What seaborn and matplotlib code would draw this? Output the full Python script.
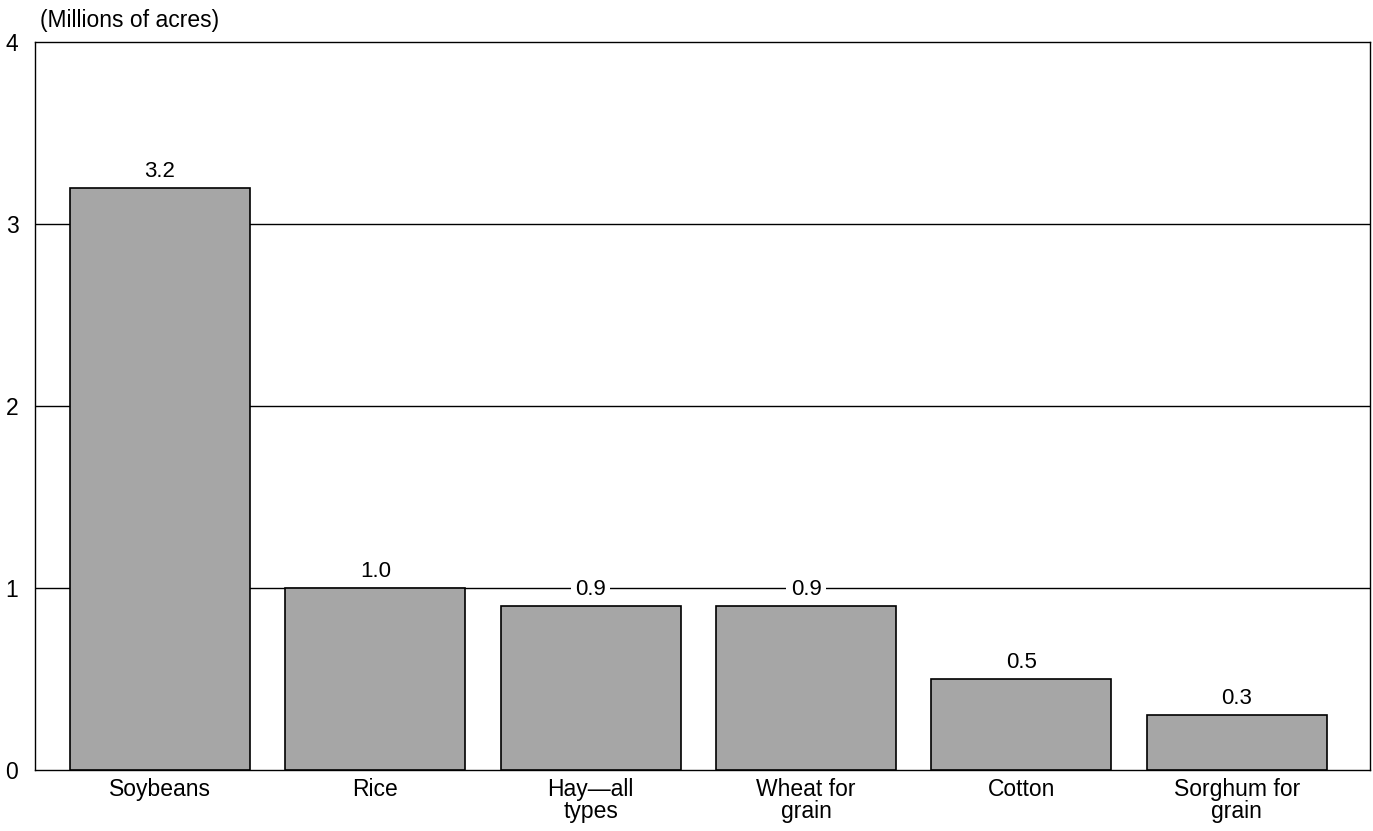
import pandas as pd
import matplotlib.pyplot as plt
import seaborn as sns

crops = ["Soybeans", "Rice", "Hay\u2014all\ntypes", "Wheat for\ngrain", "Cotton", "Sorghum for\ngrain"]
acres = [3.2, 1.0, 0.9, 0.9, 0.5, 0.3]
labels = ["3.2", "1.0", "0.9", "0.9", "0.5", "0.3"]

df = pd.DataFrame({"crop": crops, "acres": acres})

sns.set_style("white")
plt.rcParams['font.family'] = ['Liberation Sans', 'DejaVu Sans']
plt.rcParams['text.color'] = 'black'
plt.rcParams['xtick.color'] = 'black'
plt.rcParams['ytick.color'] = 'black'

fig = plt.figure(figsize=(13.73, 8.31), dpi=100)
ax = fig.add_axes([0.0255, 0.0735, 0.9725, 0.876])

sns.barplot(data=df, x="crop", y="acres", ax=ax, color="#a6a6a6",
            saturation=1, width=0.837, edgecolor="black", linewidth=1.2, zorder=3)

for i, (v, t) in enumerate(zip(acres, labels)):
    ax.text(i, v + 0.09, t, ha="center", va="center", fontsize=16, zorder=4,
            bbox=dict(facecolor="white", edgecolor="none", pad=3))

ax.set_ylim(0, 4)
ax.set_xlim(-0.58, 5.62)
ax.set_yticks([0, 1, 2, 3, 4])
ax.set_yticklabels(["0", "1", "2", "3", "4"], fontsize=16.5)
ax.tick_params(axis="x", length=0, labelsize=16.5, pad=6)
ax.tick_params(axis="y", length=0, pad=12)
for lbl in ax.get_xticklabels():
    lbl.set_linespacing(0.95)
for y in [1, 2, 3]:
    ax.axhline(y, color="black", linewidth=1, zorder=1)
for s in ax.spines.values():
    s.set_color("black")
    s.set_linewidth(1)
ax.set_xlabel("")
ax.set_ylabel("")
fig.text(0.029, 0.975, "(Millions of acres)", fontsize=16.5, ha="left", va="center")

fig.savefig("out.png", dpi=100)
